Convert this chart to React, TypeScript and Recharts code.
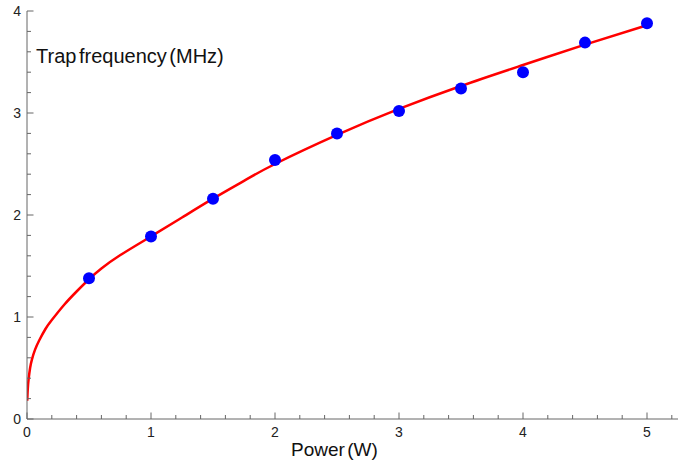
import { ComposedChart, Line, Scatter, XAxis, YAxis, Customized } from 'recharts';

document.body.style.margin = '0';

// measured points
const powerW = [0.5, 1, 1.5, 2, 2.5, 3, 3.5, 4, 4.5, 5];
const trapFreq = [1.38, 1.79, 2.16, 2.54, 2.8, 3.02, 3.24, 3.4, 3.69, 3.88];

// fitted curve
const fitPower = [0.002, 0.006, 0.013, 0.025, 0.04, 0.065, 0.1, 0.15, 0.2, 0.3, 0.4, 0.5, 0.6, 0.75, 1, 1.25, 1.5, 1.75, 2, 2.5, 3, 3.5, 4, 4.5, 5];
const fitFreq = [0.18, 0.29, 0.39, 0.5, 0.585, 0.68, 0.775, 0.885, 0.97, 1.12, 1.25, 1.37, 1.475, 1.605, 1.79, 1.975, 2.16, 2.335, 2.5, 2.785, 3.04, 3.265, 3.47, 3.67, 3.86];

const xTicks = [0, 0.2, 0.4, 0.6, 0.8, 1, 1.2, 1.4, 1.6, 1.8, 2, 2.2, 2.4, 2.6, 2.8, 3, 3.2, 3.4, 3.6, 3.8, 4, 4.2, 4.4, 4.6, 4.8, 5, 5.2];
const yTicks = [0, 0.2, 0.4, 0.6, 0.8, 1, 1.2, 1.4, 1.6, 1.8, 2, 2.2, 2.4, 2.6, 2.8, 3, 3.2, 3.4, 3.6, 3.8, 4];

const points = powerW.map((p, i) => ({ p, f: trapFreq[i] }));
const fit = fitPower.map((p, i) => ({ p, f: fitFreq[i] }));

const AXIS = '#666';
const FONT = '"Liberation Sans", Arial, sans-serif';

const isMajor = (v: number) => Math.abs(v - Math.round(v)) < 1e-6;

function XTick(props: any) {
  const { x, y, payload } = props;
  const major = isMajor(payload.value);
  return (
    <g>
      <line x1={x} x2={x} y1={y} y2={y - (major ? 6.5 : 4)} stroke={AXIS} strokeWidth={1} />
      {major && (
        <text x={x} y={y + 18} textAnchor="middle" fontSize={14} fill="#222" fontFamily={FONT}>
          {Math.round(payload.value)}
        </text>
      )}
    </g>
  );
}

function YTick(props: any) {
  const { x, y, payload } = props;
  const major = isMajor(payload.value);
  return (
    <g>
      <line x1={x} x2={x + (major ? 6.5 : 4)} y1={y} y2={y} stroke={AXIS} strokeWidth={1} />
      {major && (
        <text x={x - 6} y={y + 5} textAnchor="end" fontSize={14} fill="#222" fontFamily={FONT}>
          {Math.round(payload.value)}
        </text>
      )}
    </g>
  );
}

export default function App() {
  return (
    <ComposedChart width={678} height={471} margin={{ top: 11, right: 0, bottom: 0, left: 0 }}>
      <XAxis
        type="number"
        dataKey="p"
        domain={[0, 5.25]}
        ticks={xTicks}
        interval={0}
        allowDataOverflow
        height={52}
        tickSize={0}
        tickMargin={0}
        tick={<XTick />}
        axisLine={{ stroke: AXIS, strokeWidth: 1 }}
        tickLine={false}
      />
      <YAxis
        type="number"
        dataKey="f"
        domain={[0, 4]}
        ticks={yTicks}
        interval={0}
        allowDataOverflow
        width={27}
        tickSize={0}
        tickMargin={0}
        tick={<YTick />}
        axisLine={{ stroke: AXIS, strokeWidth: 1 }}
        tickLine={false}
      />
      <Line
        data={fit}
        dataKey="f"
        type="natural"
        stroke="#ff0000"
        strokeWidth={2.5}
        dot={false}
        activeDot={false}
        isAnimationActive={false}
      />
      <Scatter data={points} dataKey="f" fill="#0000ff" shape={(p: any) => <circle cx={p.cx} cy={p.cy} r={6} fill="#0000ff" />} isAnimationActive={false} />
      <Customized
        component={() => (
          <g fontFamily={FONT} fill="#111">
            <text x={36} y={63} fontSize={20} wordSpacing={-3}>Trap frequency (MHz)</text>
            <text x={291} y={456} fontSize={19} wordSpacing={-3}>Power (W)</text>
          </g>
        )}
      />
    </ComposedChart>
  );
}
